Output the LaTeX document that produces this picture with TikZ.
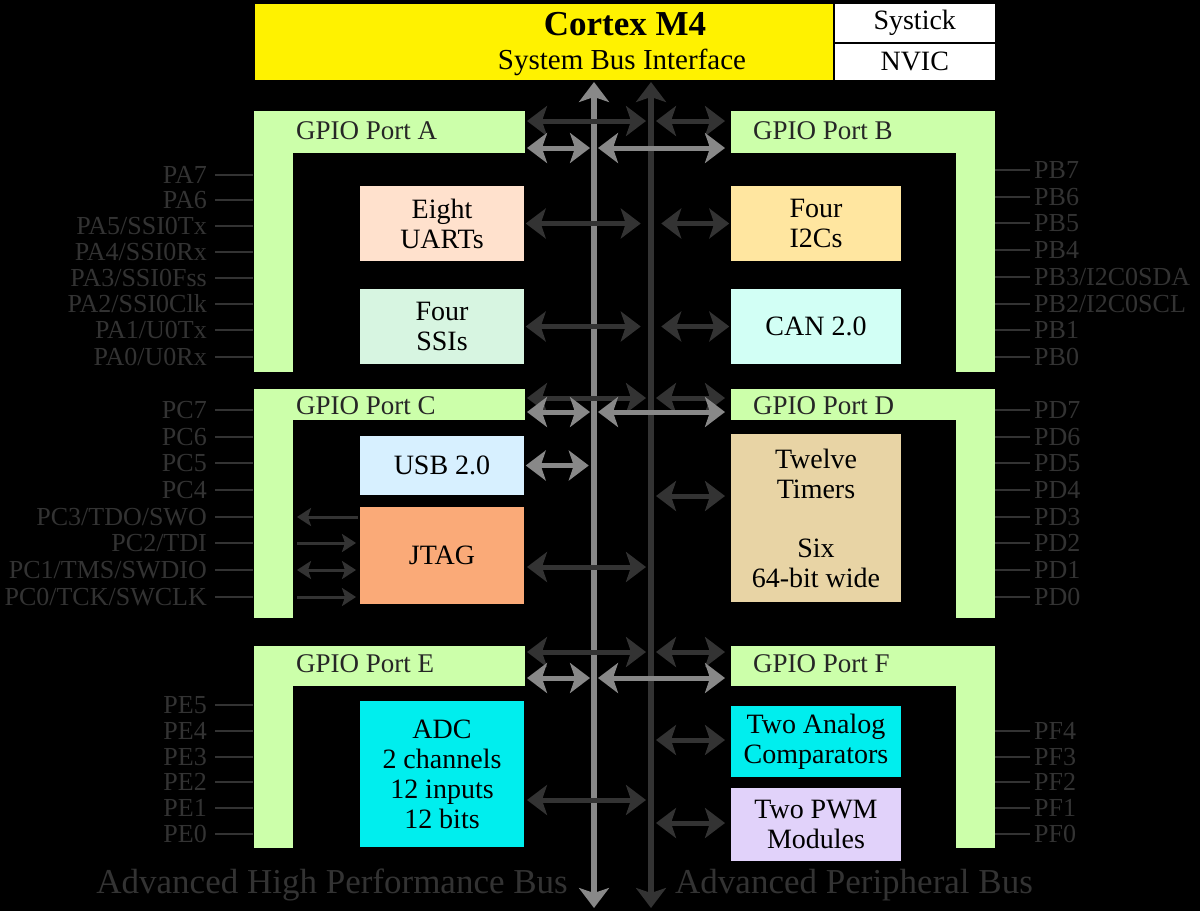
\documentclass[tikz,border=0pt]{standalone}
\usepackage{fontspec}
\setmainfont{Liberation Serif}
\usetikzlibrary{arrows.meta}
\definecolor{gpio}{HTML}{CCFFAA}
\definecolor{dk}{HTML}{333333}
\definecolor{lt}{HTML}{888888}
\definecolor{cy}{HTML}{00EEEE}
\begin{document}
\begin{tikzpicture}[x=1pt,y=-1pt,
  lbl/.style={font=\fontsize{26}{28}\selectfont, text=dk, inner sep=0pt},
  pinl/.style={draw=dk, line width=2pt},
  blk/.style={draw=black, line width=1.5pt, align=center, font=\fontsize{28}{30}\selectfont, inner sep=0pt},
  darr/.style={draw=dk, line width=5pt, {Stealth[length=20pt,width=30pt,inset=5pt]}-{Stealth[length=20pt,width=30pt,inset=5pt]}},
  larr/.style={draw=lt, line width=5pt, {Stealth[length=20pt,width=30pt,inset=5pt]}-{Stealth[length=20pt,width=30pt,inset=5pt]}},
  darr1/.style={draw=dk, line width=3pt, -{Stealth[length=14pt,width=18pt,inset=3pt]}},
  darr2/.style={draw=dk, line width=3pt, {Stealth[length=14pt,width=18pt,inset=3pt]}-{Stealth[length=14pt,width=18pt,inset=3pt]}},
  gp/.style={fill=gpio, draw=black, line width=1pt},
  gt/.style={font=\fontsize{27}{29}\selectfont, text=black!85, anchor=west, inner sep=0pt}]
\fill[black] (0,0) rectangle (1200,911);
\useasboundingbox (0,0) rectangle (1200,911);
% top
\node[blk, fill=yellow, minimum width=580pt, minimum height=78pt, anchor=north west] (cm4) at (253,2) {};
\node[font=\bfseries\fontsize{35}{37}\selectfont, inner sep=0pt] (cmt) at (625,24) {Cortex M4};
\node[font=\fontsize{29}{31}\selectfont, inner sep=0pt] (sbi) at (622,62) {System Bus Interface};
\node[blk, fill=white, minimum width=162pt, minimum height=40pt, anchor=north west] (sys) at (833,2) {Systick};
\node[blk, fill=white, minimum width=162pt, minimum height=38pt, anchor=north west] (nvic) at (833,42) {NVIC};
% GPIO L shapes
\fill[gp] (253,110) -- (525,110) -- (525,153) -- (293,153) -- (293,372) -- (253,372) -- cycle;
\node[gt] (pa) at (296,131) {GPIO Port A};
\fill[gp] (730,110) -- (995,110) -- (995,372) -- (955,372) -- (955,153) -- (730,153) -- cycle;
\node[gt] (pb) at (753,131) {GPIO Port B};
\fill[gp] (253,388) -- (525,388) -- (525,420) -- (293,420) -- (293,618) -- (253,618) -- cycle;
\node[gt] (pc) at (296,406) {GPIO Port C};
\fill[gp] (730,388) -- (995,388) -- (995,618) -- (955,618) -- (955,420) -- (730,420) -- cycle;
\node[gt] (pd) at (753,406) {GPIO Port D};
\fill[gp] (253,645) -- (525,645) -- (525,686) -- (293,686) -- (293,848) -- (253,848) -- cycle;
\node[gt] (pe) at (296,664) {GPIO Port E};
\fill[gp] (730,645) -- (995,645) -- (995,848) -- (955,848) -- (955,686) -- (730,686) -- cycle;
\node[gt] (pf) at (753,664) {GPIO Port F};
% blocks
\node[blk, fill={rgb,255:red,255;green,225;blue,205}, minimum width=166pt, minimum height=77pt] (uart) at (442,223.5) {Eight\\UARTs};
\node[blk, fill={rgb,255:red,215;green,245;blue,225}, minimum width=166pt, minimum height=77pt] (ssi) at (442,326.5) {Four\\SSIs};
\node[blk, fill={rgb,255:red,255;green,230;blue,160}, minimum width=172pt, minimum height=77pt] (i2c) at (816,223.5) {Four\\I2Cs};
\node[blk, fill={rgb,255:red,210;green,255;blue,245}, minimum width=172pt, minimum height=77pt] (can) at (816,326.5) {CAN 2.0};
\node[blk, fill={rgb,255:red,215;green,240;blue,255}, minimum width=166pt, minimum height=61pt] (usb) at (442,465.5) {USB 2.0};
\node[blk, fill={rgb,255:red,250;green,170;blue,120}, minimum width=166pt, minimum height=99pt] (jtag) at (442,555.5) {JTAG};
\node[blk, fill={rgb,255:red,232;green,212;blue,165}, minimum width=172pt, minimum height=170pt] (tim) at (816,518) {Twelve\\Timers\\[29pt]Six\\64-bit wide};
\node[blk, fill=cy, minimum width=166pt, minimum height=148pt] (adc) at (442,774) {ADC\\2 channels\\12 inputs\\12 bits};
\node[blk, fill=cy, minimum width=172pt, minimum height=73pt] (cmp) at (816,741.5) {Two Analog\\Comparators};
\node[blk, fill={rgb,255:red,225;green,210;blue,250}, minimum width=172pt, minimum height=75pt] (pwm) at (816,824.5) {Two PWM\\Modules};
% buses
\coordinate (ahbT) at (594,82); \coordinate (ahbB) at (594,908);
\coordinate (apbT) at (651,82); \coordinate (apbB) at (651,908);
\draw[larr, line width=6pt] (ahbT) -- (ahbB);
\draw[darr, line width=6pt] (apbT) -- (apbB);
% port arrows
\foreach \yd/\yl in {121/148, 398/412, 652/678}{
  \draw[darr] (527,\yd) -- (646,\yd);
  \draw[darr] (656,\yd) -- (725,\yd);
  \draw[larr] (527,\yl) -- (590,\yl);
  \draw[larr] (598,\yl) -- (725,\yl);
}
\draw[darr] (uart.east) -- ++(115,0);
\draw[darr] (ssi.east) -- ++(115,0);
\draw[darr] (i2c.west) -- ++(-68,0);
\draw[darr] (can.west) -- ++(-68,0);
\draw[larr] (usb.east) -- ++(63,0);
\draw[darr] (656,496) -- (725,496);
\draw[darr] (527,567) -- (646,567);
\draw[darr] (527,800) -- (646,800);
\draw[darr] (656,740) -- (725,740);
\draw[darr] (656,823) -- (725,823);
% JTAG pin arrows
\draw[darr1] (358,517) -- (297,517);
\draw[darr1] (297,543) -- (356,543);
\draw[darr2] (297,570) -- (356,570);
\draw[darr1] (297,597) -- (356,597);
% pins left
\foreach \t/\y in {PA7/175,PA6/200,PA5\slash SSI0Tx/226,PA4\slash SSI0Rx/252,PA3\slash SSI0Fss/278,PA2\slash SSI0Clk/304,PA1\slash U0Tx/330,PA0\slash U0Rx/357,
  PC7/410,PC6/437,PC5/463,PC4/490,PC3\slash TDO\slash SWO/517,PC2\slash TDI/543,PC1\slash TMS\slash SWDIO/570,PC0\slash TCK\slash SWCLK/597,
  PE5/705,PE4/731,PE3/757,PE2/782,PE1/808,PE0/834}{
  \draw[pinl] (215,\y) -- (253,\y);
  \node[lbl, anchor=east] at (207,\y) {\t};
}
\foreach \t/\y in {PB7/170,PB6/197,PB5/223,PB4/250,PB3\slash I2C0SDA/277,PB2\slash I2C0SCL/304,PB1/330,PB0/357,
  PD7/410,PD6/437,PD5/463,PD4/490,PD3/517,PD2/543,PD1/570,PD0/597,
  PF4/731,PF3/757,PF2/782,PF1/808,PF0/834}{
  \draw[pinl] (995,\y) -- (1030,\y);
  \node[lbl, anchor=west] at (1034,\y) {\t};
}
\node[font=\fontsize{35}{37}\selectfont, text=dk, anchor=east, inner sep=0pt] (ahbt) at (568,885) {Advanced High Performance Bus};
\node[font=\fontsize{35}{37}\selectfont, text=dk, anchor=west, inner sep=0pt] (apbt) at (675,885) {Advanced Peripheral Bus};
\end{tikzpicture}
\end{document}
